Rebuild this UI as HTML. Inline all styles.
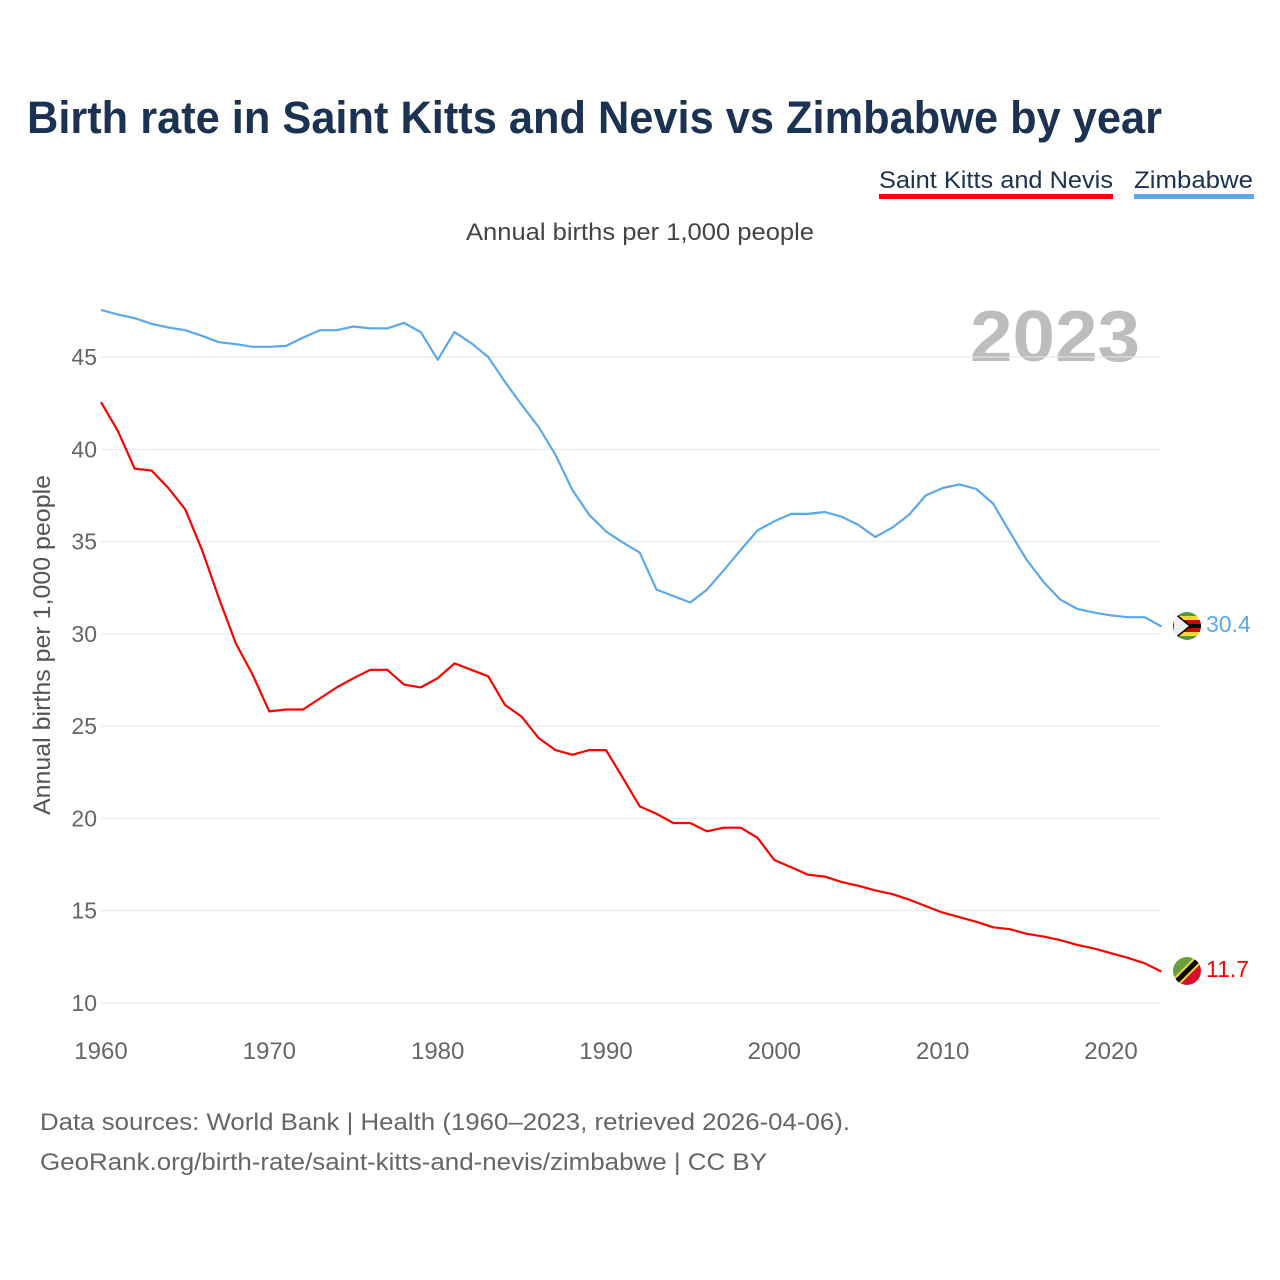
<!DOCTYPE html>
<html><head><meta charset="utf-8"><style>
html,body{margin:0;padding:0;background:#fff;}
svg{display:block;font-family:"Liberation Sans",sans-serif;}
</style></head><body>
<svg id="chart" width="1280" height="1280" viewBox="0 0 1280 1280">
<text x="27" y="133" font-size="45" font-weight="bold" fill="#1b3252" textLength="1135" lengthAdjust="spacingAndGlyphs">Birth rate in Saint Kitts and Nevis vs Zimbabwe by year</text>
<g>
<text x="879" y="188" font-size="24" fill="#1b3252" textLength="234" lengthAdjust="spacingAndGlyphs">Saint Kitts and Nevis</text>
<rect x="879" y="194" width="234" height="5" fill="#ff0000"/>
</g>
<g>
<text x="1134" y="188" font-size="24" fill="#1b3252" textLength="119" lengthAdjust="spacingAndGlyphs">Zimbabwe</text>
<rect x="1134" y="194" width="120" height="5" fill="#5ca8ec"/>
</g>
<text x="466" y="240" font-size="24" fill="#444" textLength="348" lengthAdjust="spacingAndGlyphs">Annual births per 1,000 people</text>
<text x="1140" y="361" font-size="72" font-weight="bold" fill="#bdbdbd" text-anchor="end" textLength="170" lengthAdjust="spacingAndGlyphs">2023</text>
<g id="grid"></g>
<g id="yticks"></g>
<g id="xticks"></g>
<text transform="translate(50,815) rotate(-90)" font-size="24" fill="#555" textLength="340" lengthAdjust="spacingAndGlyphs">Annual births per 1,000 people</text>
<g id="lines"></g>
<g>
<clipPath id="cz"><circle cx="1187" cy="626" r="14"/></clipPath>
<g clip-path="url(#cz)">
<rect x="1173" y="612" width="28" height="4" fill="#4f9a3a"/><rect x="1173" y="616" width="28" height="4" fill="#f8d73a"/><rect x="1173" y="620" width="28" height="4" fill="#d40000"/><rect x="1173" y="624" width="28" height="4" fill="#000"/><rect x="1173" y="628" width="28" height="4" fill="#d40000"/><rect x="1173" y="632" width="28" height="4" fill="#f8d73a"/><rect x="1173" y="636" width="28" height="4" fill="#4f9a3a"/>
<polygon points="1173,612 1190,626 1173,640" fill="#eee" stroke="#000" stroke-width="1.5"/>
</g></g>
<g>
<clipPath id="cs"><circle cx="1187" cy="971" r="14"/></clipPath>
<g clip-path="url(#cs)">
<polygon points="1173,957 1201,957 1173,985" fill="#6a9f3a"/>
<polygon points="1201,957 1201,985 1173,985" fill="#d80f2a"/>
<line x1="1199" y1="959" x2="1175" y2="983" stroke="#f8d73a" stroke-width="9"/>
<line x1="1199" y1="959" x2="1175" y2="983" stroke="#000" stroke-width="5"/>
</g></g>
<text x="1206" y="632" font-size="23" fill="#5ca8ec">30.4</text>
<text x="1206" y="977" font-size="23" fill="#ff0000">11.7</text>
<text x="40" y="1130" font-size="24" fill="#666" textLength="810" lengthAdjust="spacingAndGlyphs">Data sources: World Bank | Health (1960–2023, retrieved 2026-04-06).</text>
<text x="40" y="1170" font-size="24" fill="#666" textLength="727" lengthAdjust="spacingAndGlyphs">GeoRank.org/birth-rate/saint-kitts-and-nevis/zimbabwe | CC BY</text>
</svg>
<script>
const years = [];
for (let y = 1960; y <= 2023; y++) years.push(y);
const zimbabwe = [47.55,47.3,47.1,46.8,46.6,46.45,46.15,45.8,45.7,45.55,45.55,45.6,46.05,46.45,46.45,46.65,46.55,46.55,46.85,46.35,44.85,46.35,45.75,45.0,43.65,42.4,41.2,39.7,37.8,36.45,35.55,34.95,34.4,32.4,32.05,31.7,32.4,33.45,34.55,35.6,36.1,36.5,36.5,36.6,36.35,35.9,35.25,35.75,36.45,37.5,37.9,38.1,37.85,37.05,35.5,34.0,32.8,31.85,31.35,31.15,31.0,30.9,30.9,30.4];
const saintKitts = [42.55,41.0,38.95,38.85,37.9,36.75,34.55,31.95,29.5,27.8,25.8,25.9,25.9,26.5,27.1,27.6,28.05,28.05,27.25,27.1,27.6,28.4,28.05,27.7,26.15,25.5,24.35,23.7,23.45,23.7,23.7,22.2,20.65,20.25,19.75,19.75,19.3,19.5,19.5,18.95,17.75,17.35,16.95,16.85,16.55,16.35,16.1,15.9,15.6,15.25,14.9,14.65,14.4,14.1,14.0,13.75,13.6,13.4,13.15,12.95,12.7,12.45,12.15,11.7];
const yTicks = [10,15,20,25,30,35,40,45];
const xTicks = [1960,1970,1980,1990,2000,2010,2020];
const NS = 'http://www.w3.org/2000/svg';
function xs(v){ return 101 + (v - 1960) * (1111 - 101) / 60; }
function ys(v){ return 1003 - (v - 10) * (1003 - 357) / 35; }
function mk(tag, attrs){ const e = document.createElementNS(NS, tag); for (const k in attrs) e.setAttribute(k, attrs[k]); return e; }
const grid = document.getElementById('grid'), yt = document.getElementById('yticks'), xt = document.getElementById('xticks'), lines = document.getElementById('lines');
yTicks.forEach(t => {
  const l = mk('line', {x1: 101, x2: 1161, y1: ys(t), y2: ys(t), stroke: '#e6e6e6', 'stroke-width': 1});
  
  
  grid.appendChild(l);
  const tx = mk('text', {x: 97, y: ys(t) + 8, 'font-size': 23, fill: '#666', 'text-anchor': 'end'});
  tx.textContent = t;
  
  
  yt.appendChild(tx);
});
xTicks.forEach(t => {
  const tx = mk('text', {x: xs(t), y: 1059, 'font-size': 24, fill: '#666', 'text-anchor': 'middle'});
  tx.textContent = t;
  
  
  xt.appendChild(tx);
});
function drawLine(vals, color, name){
  const d = vals.map((v, i) => (i ? 'L' : 'M') + xs(years[i]).toFixed(1) + ',' + ys(v).toFixed(1)).join('');
  const p = mk('path', {d: d, fill: 'none', stroke: color, 'stroke-width': 2.2, 'stroke-linejoin': 'round'});
  
  
  lines.appendChild(p);
}
drawLine(zimbabwe, '#5ca8ec', 'zimbabwe-line');
drawLine(saintKitts, '#ff0000', 'saint-kitts-line');
</script>
</body></html>
